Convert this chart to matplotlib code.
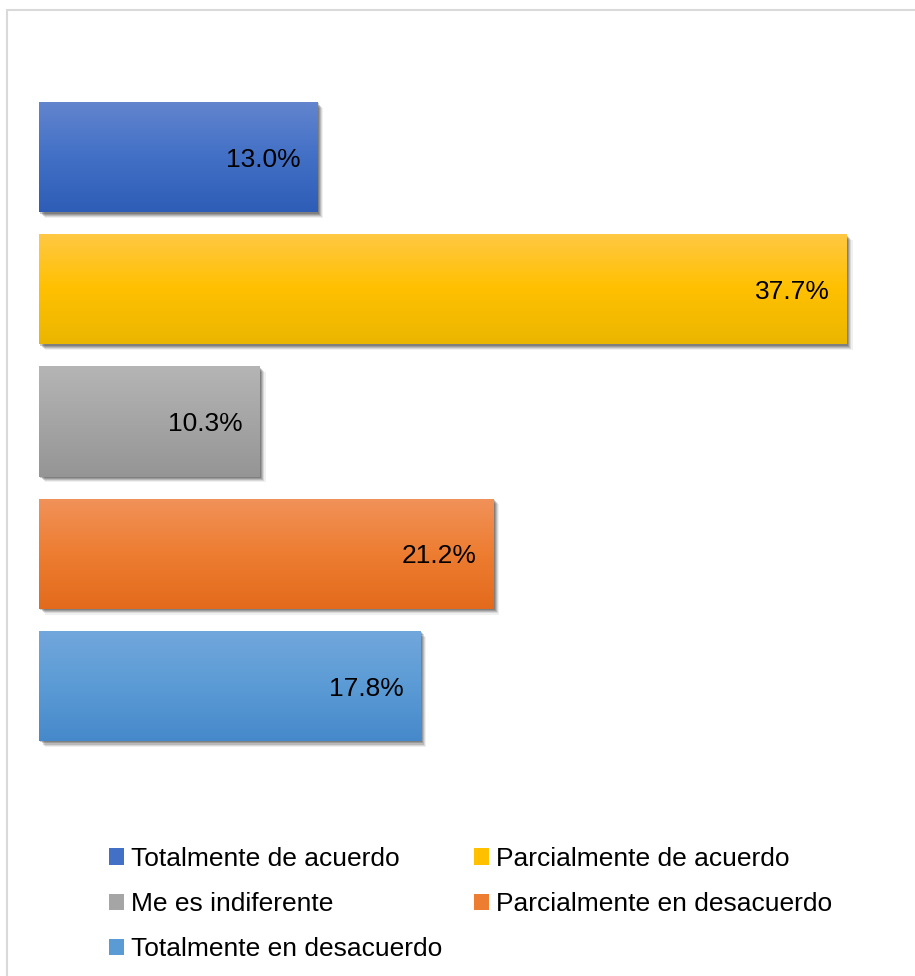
import numpy as np
import matplotlib.pyplot as plt
import matplotlib.patheffects as pe
from matplotlib.colors import LinearSegmentedColormap
from matplotlib.patches import Patch, Rectangle

plt.rcParams['font.family'] = ['Liberation Sans', 'DejaVu Sans']

categories = ["Totalmente de acuerdo", "Parcialmente de acuerdo", "Me es indiferente",
              "Parcialmente en desacuerdo", "Totalmente en desacuerdo"]
values = [13.0, 37.7, 10.3, 21.2, 17.8]
# top / middle / bottom shades of each bar's vertical gradient
shades = [
    ("#6385CE", "#4270C6", "#2E5DB7"),
    ("#FFC845", "#FFC000", "#EBB600"),
    ("#B5B5B5", "#A5A5A5", "#959595"),
    ("#F1925A", "#ED7D31", "#E36A1C"),
    ("#72A7DC", "#5B9BD5", "#4689CB"),
]

fig = plt.figure(figsize=(9.15, 9.76), dpi=100)
fig.patches.append(Rectangle((7 / 915, -0.05), 1.1, 1 - 10 / 976 + 0.05,
                             transform=fig.transFigure, fill=False,
                             edgecolor="#D9D9D9", linewidth=1.5))

ax = fig.add_axes([39 / 915, 1 - 752 / 976, 857 / 915, 661 / 976])
ax.set_xlim(0, 40)
ax.set_ylim(4.5, -0.5)
ax.axis("off")

ypos = np.arange(len(values))
bars = ax.barh(ypos, values, height=0.833, color=[s[1] for s in shades], zorder=2)

# soft drop shadow built from a few stacked offsets
shadow = [pe.SimplePatchShadow(offset=(d, -d), shadow_rgbFace="#303030", alpha=a)
          for d, a in [(4.2, 0.07), (3.4, 0.12), (2.6, 0.18), (1.8, 0.22), (1.0, 0.25)]]

grad = np.linspace(0, 1, 256).reshape(-1, 1)
for bar, val, sh in zip(bars, values, shades):
    bar.set_path_effects(shadow + [pe.Normal()])
    cmap = LinearSegmentedColormap.from_list("g", list(sh))
    x0, y0 = bar.get_x(), bar.get_y()
    w, h = bar.get_width(), bar.get_height()
    img = ax.imshow(grad, cmap=cmap, aspect="auto", extent=(x0, x0 + w, y0 + h, y0),
                    origin="upper", zorder=3)
    img.set_clip_path(bar)
    ax.annotate(f"{val:.1f}%", xy=(val, bar.get_y() + h / 2), xytext=(-12, -2),
                textcoords="offset points", ha="right", va="center",
                fontsize=19, color="#000000", zorder=4)

ax.set_xlim(0, 40)
ax.set_ylim(4.5, -0.5)

handles = [Patch(facecolor=s[1]) for s in shades]
order = [0, 2, 4, 1, 3]
fig.legend([handles[i] for i in order], [categories[i] for i in order],
           ncol=2, loc="upper left", bbox_to_anchor=(109 / 915, 1 - 847 / 976),
           frameon=False, fontsize=19, handlelength=0.58, handleheight=0.58,
           handletextpad=0.25, columnspacing=1.2, labelspacing=0.8,
           borderpad=0, borderaxespad=0)

fig.savefig("out.png", dpi=100)
